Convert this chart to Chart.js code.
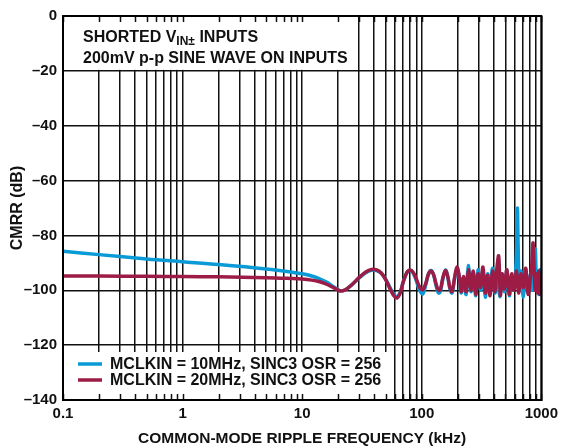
<!DOCTYPE html>
<html>
<head>
<meta charset="utf-8">
<script src="https://cdn.jsdelivr.net/npm/chart.js@4.4.1/dist/chart.umd.min.js"></script>
<style>
  html, body { margin: 0; padding: 0; background: #fff; }
  #wrap { width: 563px; height: 448px; }
</style>
</head>
<body>
<div id="wrap"><canvas id="cmrr"></canvas></div>
<script>
// CMRR vs common-mode ripple frequency, two clock settings
const freq10 = [0.1, 0.2, 0.5, 1, 2, 5, 8, 10, 12, 14, 16, 18, 20, 21, 23, 26, 30, 34, 38, 42, 46, 50, 54, 58, 62, 66, 70, 75, 80, 85, 90, 96, 102, 108, 114, 120, 126, 132, 138, 143, 150, 158, 165, 172, 179, 188, 197, 206, 214,
  224, 235, 245, 258, 270, 283, 296, 310, 325, 340, 356, 373, 391, 410, 429, 449, 470, 492, 515, 540, 565, 592, 610, 622, 631, 640, 655, 676, 708, 741, 776, 812, 851, 870, 891, 912, 933, 955, 977, 1000];
const cmrr10 = [-85.8, -87.0, -88.6, -89.6, -90.6, -92.2, -93.3, -94.0, -94.8, -95.8, -97.0, -98.5, -99.8, -100.2, -99.8, -98.0, -95.5, -93.6, -92.7, -92.8, -93.8, -96.0, -98.8, -101.3, -102.3, -100.8, -97.0, -93.6, -92.8, -93.8, -96.5, -100.0, -101.3, -98.0, -94.0, -92.8, -94.5, -98.5, -101.0, -100.5, -96.0, -92.6, -95.0, -99.5, -101.0, -96.0, -92.0, -95.5, -101.0,
  -95.5, -101.5, -91.0, -100.5, -93.5, -102.0, -92.5, -100.0, -93.0, -102.5, -94.0, -99.5, -92.0, -101.0, -93.5, -102.3, -94.5, -100.5, -92.5, -102.0, -95.0, -99.0, -93.0, -84.0, -70.0, -84.0, -100.0, -93.0, -102.5, -92.5, -101.0, -94.0, -100.0, -93.0, -85.0, -99.0, -93.0, -101.5, -92.5, -98.0];

const freq20 = [0.1, 0.2, 0.5, 1, 2, 5, 8, 10, 12, 14, 16, 18, 20, 21, 23, 26, 30, 34, 38, 42, 46, 50, 54, 58, 62, 66, 70, 75, 80, 85, 90, 96, 102, 108, 114, 120, 126, 132, 138, 143, 150, 158, 165, 172, 179, 188, 197, 206, 214,
  224, 235, 246, 258, 270, 283, 296, 310, 325, 340, 356, 373, 391, 410, 425, 440, 455, 470, 492, 515, 540, 565, 592, 620, 645, 676, 708, 741, 776, 812, 835, 853, 870, 891, 912, 933, 955, 977, 1000];
const cmrr20 = [-94.8, -94.8, -94.9, -95.0, -95.1, -95.4, -95.7, -95.9, -96.3, -96.9, -97.8, -98.9, -99.9, -100.3, -99.8, -98.0, -95.3, -93.3, -92.4, -92.6, -93.8, -96.2, -99.2, -101.8, -102.8, -101.0, -97.0, -93.6, -92.6, -93.5, -95.8, -98.8, -99.8, -97.5, -94.0, -93.0, -94.5, -97.8, -100.0, -99.8, -95.5, -92.8, -95.0, -99.0, -100.5, -95.5, -91.5, -95.0, -100.5,
  -95.0, -100.5, -92.5, -100.0, -93.0, -101.5, -94.0, -99.0, -91.5, -101.0, -94.5, -102.0, -93.0, -100.5, -92.0, -87.5, -101.8, -94.0, -99.5, -92.5, -101.5, -94.0, -100.0, -93.0, -101.0, -94.0, -99.0, -92.0, -101.5, -95.0, -90.0, -82.7, -92.0, -100.0, -94.0, -101.0, -93.0, -101.5, -94.0];

const seriesLabels = ['MCLKIN = 10MHz, SINC3 OSR = 256', 'MCLKIN = 20MHz, SINC3 OSR = 256'];
const seriesColors = ['#0a9ad6', '#9c1c46'];
const xDecades = [0.1, 1, 10, 100, 1000];
const yTicks = [0, -20, -40, -60, -80, -100, -120, -140];

const FONT = '"Liberation Sans", Arial, Helvetica, sans-serif';
const INK = '#111';

const toPoints = (xs, ys) => xs.map((x, i) => ({ x: x, y: ys[i] }));

// minor log ticks 1..9 per decade
const logTicks = [];
for (let d = -1; d <= 2; d++) {
  for (let k = 1; k <= 9; k++) logTicks.push(Number((k * Math.pow(10, d)).toPrecision(3)));
}
logTicks.push(1000);

const overlays = {
  id: 'overlays',
  beforeDatasetsDraw(chart) {
    const { ctx, chartArea: a, scales: { x, y } } = chart;
    ctx.save();

    // white panels for the note and the legend
    ctx.fillStyle = '#fff';
    const noteRight = x.getPixelForValue(27);
    const noteBottom = y.getPixelForValue(-20);
    ctx.fillRect(a.left + 1, a.top + 1, noteRight - a.left, noteBottom - a.top - 2);
    const legRight = x.getPixelForValue(56);
    const legTop = y.getPixelForValue(-122.5);
    ctx.fillRect(a.left + 1, legTop, legRight - a.left, a.bottom - legTop - 1);

    // inward tick marks top and bottom
    ctx.strokeStyle = INK;
    ctx.lineWidth = 1.5;
    ctx.beginPath();
    for (const v of logTicks) {
      const px = Math.round(x.getPixelForValue(v)) + 0.5;
      ctx.moveTo(px, a.top);
      ctx.lineTo(px, a.top + 6);
      ctx.moveTo(px, a.bottom);
      ctx.lineTo(px, a.bottom - 6);
    }
    ctx.stroke();

    // note text
    ctx.fillStyle = INK;
    ctx.textBaseline = 'alphabetic';
    ctx.font = 'bold 16px ' + FONT;
    let tx = a.left + 20;
    ctx.fillText('SHORTED V', tx, 42);
    tx += ctx.measureText('SHORTED V').width;
    ctx.font = 'bold 12px ' + FONT;
    ctx.fillText('IN\u00b1', tx, 45);
    tx += ctx.measureText('IN\u00b1').width;
    ctx.font = 'bold 16px ' + FONT;
    ctx.fillText(' INPUTS', tx, 42);
    ctx.fillText('200mV p-p SINE WAVE ON INPUTS', a.left + 20, 63);

    // legend
    ctx.textBaseline = 'middle';
    const rows = [364, 380];
    rows.forEach((ry, i) => {
      ctx.strokeStyle = seriesColors[i];
      ctx.lineWidth = 3.5;
      ctx.beginPath();
      ctx.moveTo(a.left + 15, ry);
      ctx.lineTo(a.left + 39, ry);
      ctx.stroke();
      ctx.fillStyle = INK;
      ctx.fillText(seriesLabels[i], a.left + 47, ry + 1);
    });
    ctx.restore();
  },
  afterDraw(chart) {
    const { ctx, chartArea: a } = chart;
    ctx.save();
    ctx.strokeStyle = '#000';
    ctx.lineWidth = 2;
    ctx.strokeRect(a.left, a.top, a.right - a.left, a.bottom - a.top);
    ctx.restore();
  }
};

new Chart(document.getElementById('cmrr'), {
  type: 'line',
  data: {
    datasets: [
      {
        label: seriesLabels[0],
        data: toPoints(freq10, cmrr10),
        borderColor: seriesColors[0],
        borderWidth: 3.5,
        pointRadius: 0,
        tension: 0.35,
        order: 2,
      },
      {
        label: seriesLabels[1],
        data: toPoints(freq20, cmrr20),
        borderColor: seriesColors[1],
        borderWidth: 3.5,
        pointRadius: 0,
        tension: 0.35,
        order: 1,
      },
    ],
  },
  options: {
    responsive: true,
    maintainAspectRatio: false,
    animation: false,
    layout: { padding: { top: 16, right: 18, left: 0, bottom: 0 } },
    plugins: {
      legend: { display: false },
      tooltip: { enabled: false },
    },
    scales: {
      x: {
        type: 'logarithmic',
        min: 0.1,
        max: 1000,
        afterBuildTicks: (scale) => {
          scale.ticks = logTicks.map((v) => ({ value: v }));
        },
        afterFit: (scale) => {
          scale.height = 48;
        },
        ticks: {
          autoSkip: false,
          maxRotation: 0,
          padding: 5,
          color: INK,
          font: { family: FONT, size: 15, weight: 'bold' },
          callback: (v) => (xDecades.includes(v) ? String(v) : ''),
        },
        grid: { color: INK, lineWidth: 1.5, drawTicks: false },
        border: { color: '#000', width: 2 },
        title: {
          display: true,
          text: 'COMMON-MODE RIPPLE FREQUENCY (kHz)',
          color: INK,
          font: { family: FONT, size: 15.5, weight: 'bold' },
          padding: { top: 0, bottom: 0 },
        },
      },
      y: {
        min: -140,
        max: 0,
        afterBuildTicks: (scale) => {
          scale.ticks = yTicks.map((v) => ({ value: v }));
        },
        afterFit: (scale) => {
          scale.width = 63;
        },
        ticks: {
          padding: 6,
          color: INK,
          font: { family: FONT, size: 15, weight: 'bold' },
          callback: (v) => (v === 0 ? '0' : '\u2013' + Math.abs(v)),
        },
        grid: { color: INK, lineWidth: 1.5, drawTicks: false },
        border: { color: '#000', width: 2 },
        title: {
          display: true,
          text: 'CMRR (dB)',
          color: INK,
          font: { family: FONT, size: 16, weight: 'bold' },
          padding: { top: 8, bottom: 0 },
        },
      },
    },
  },
  plugins: [overlays],
});
</script>
</body>
</html>
